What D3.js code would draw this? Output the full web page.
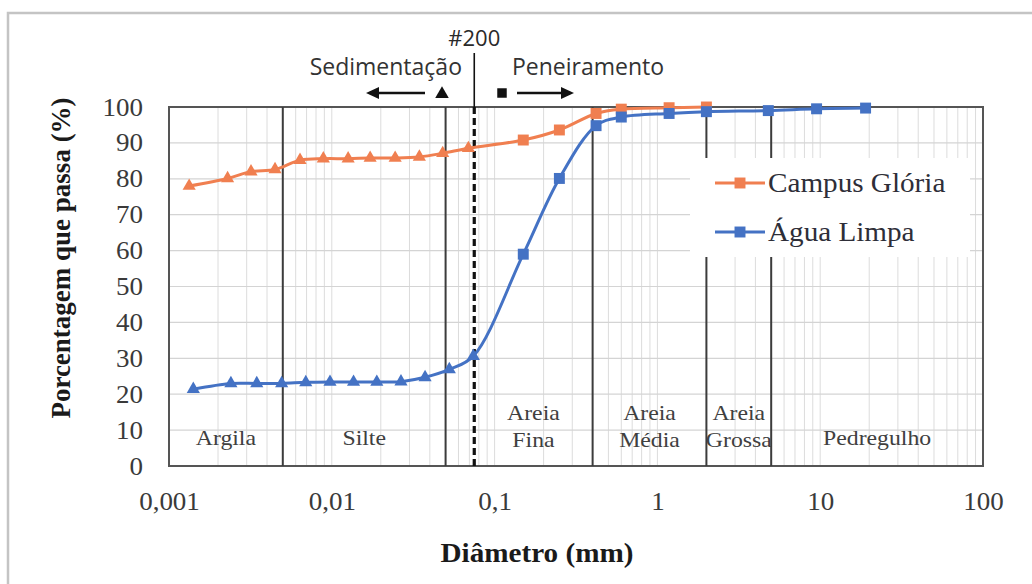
<!DOCTYPE html>
<html>
<head>
<meta charset="utf-8">
<script src="https://cdn.jsdelivr.net/npm/d3@7"></script>
<style>
  html, body { margin: 0; padding: 0; background: #fff; }
  svg { display: block; }
</style>
</head>
<body>
<svg id="chart" width="1032" height="584"></svg>
<script>
// Grain-size distribution (curva granulométrica) of two soil samples

// Campus Glória: sedimentation points (d < 0.075 mm) followed by sieve points
const campusDiam = [0.00133, 0.00229, 0.00319, 0.00448, 0.00638, 0.00887, 0.0126, 0.0172,
                    0.0245, 0.0345, 0.048, 0.069, 0.15, 0.25, 0.42, 0.6, 1.18, 2.0];
const campusPass = [78.0, 80.1, 82.0, 82.6, 85.2, 85.6, 85.6, 85.8,
                    85.8, 86.1, 87.1, 88.5, 90.8, 93.6, 98.2, 99.4, 99.8, 100];

// Água Limpa
const aguaDiam = [0.00141, 0.0024, 0.00346, 0.00492, 0.00692, 0.00975, 0.0136, 0.0189,
                  0.0266, 0.0374, 0.0527, 0.074, 0.15, 0.25, 0.42, 0.6, 1.18, 2.0, 4.8, 9.5, 19];
const aguaPass = [21.4, 23.0, 23.0, 23.0, 23.3, 23.4, 23.4, 23.4,
                  23.5, 24.7, 26.9, 30.6, 59.0, 80.1, 94.8, 97.2, 98.2, 98.7, 99.0, 99.5, 99.7];

const seriesNames = ["Campus Glória", "Água Limpa"];

// Axis ticks
const xTicks = [0.001, 0.01, 0.1, 1, 10, 100];
const xTickLabels = ["0,001", "0,01", "0,1", "1", "10", "100"];
const yTicks = [0, 10, 20, 30, 40, 50, 60, 70, 80, 90, 100];

// Soil fraction boundaries (mm) and the #200 sieve opening
const fractionBounds = [0.005, 0.05, 0.4, 2.0, 5.0];
const sieve200 = 0.075;

// Fraction names: [lower bound, upper bound, text lines]
const fractionNames = [
  [0.001, 0.005, ["Argila"]],
  [0.005, 0.05, ["Silte"]],
  [0.075, 0.4, ["Areia", "Fina"]],
  [0.4, 2.0, ["Areia", "Média"]],
  [2.0, 5.0, ["Areia", "Grossa"]],
  [5.0, 100, ["Pedregulho"]]
];

const colors = { campus: "#F07F50", agua: "#4472C4" };
const serif = "'Liberation Serif', 'Times New Roman', serif";
const sans = "'Open Sans', 'Noto Sans', sans-serif";
const SX = 1.08; // slight horizontal widening of the serif lettering

const svg = d3.select("#chart");

const plot = { left: 169, right: 983, top: 107, bottom: 466 };
const x = d3.scaleLog().domain([0.001, 100]).range([plot.left, plot.right]);
const y = d3.scaleLinear().domain([0, 100]).range([plot.bottom, plot.top]);

// Outer figure frame
svg.append("rect")
  .attr("x", 8).attr("y", 13).attr("width", 1040).attr("height", 620)
  .attr("fill", "none").attr("stroke", "#c4c4c4").attr("stroke-width", 2.5);

// Text helper with horizontal widening
function label(parent, px, py, str, opts) {
  const t = parent.append("text")
    .attr("transform", `translate(${px},${py}) scale(${opts.sx || 1},1)`)
    .attr("text-anchor", opts.anchor || "middle")
    .attr("font-family", opts.family || serif)
    .attr("font-size", opts.size)
    .attr("font-weight", opts.weight || "normal")
    .attr("fill", opts.fill || "#333")
    .text(str);
  return t;
}

// Grid: minor log lines in x, every 10 % in y
const grid = svg.append("g");
const minorX = [];
for (let e = -3; e < 2; e++) {
  for (let m = 1; m <= 9; m++) minorX.push(m * Math.pow(10, e));
}
minorX.push(100);
grid.selectAll("line.vx").data(minorX).join("line")
  .attr("x1", d => x(d)).attr("x2", d => x(d))
  .attr("y1", plot.top).attr("y2", plot.bottom)
  .attr("stroke", "#dcdcdc").attr("stroke-width", 1);
grid.selectAll("line.hy").data(yTicks).join("line")
  .attr("x1", plot.left).attr("x2", plot.right)
  .attr("y1", d => y(d)).attr("y2", d => y(d))
  .attr("stroke", "#d4d4d4").attr("stroke-width", 1.2);

// Plot border
svg.append("rect")
  .attr("x", plot.left).attr("y", plot.top)
  .attr("width", plot.right - plot.left).attr("height", plot.bottom - plot.top)
  .attr("fill", "none").attr("stroke", "#555").attr("stroke-width", 2);

// Fraction boundaries
svg.append("g").selectAll("line").data(fractionBounds).join("line")
  .attr("x1", d => x(d)).attr("x2", d => x(d))
  .attr("y1", plot.top).attr("y2", plot.bottom)
  .attr("stroke", "#3c3c3c").attr("stroke-width", 2);

// #200 sieve: dashed inside the plot, solid above it
svg.append("line")
  .attr("x1", x(sieve200)).attr("x2", x(sieve200))
  .attr("y1", plot.top).attr("y2", plot.bottom)
  .attr("stroke", "#111").attr("stroke-width", 3.2)
  .attr("stroke-dasharray", "7,4");
svg.append("line")
  .attr("x1", x(sieve200)).attr("x2", x(sieve200))
  .attr("y1", 53).attr("y2", plot.top)
  .attr("stroke", "#111").attr("stroke-width", 1.6);

// Fraction names
const fracG = svg.append("g");
fractionNames.forEach(([a, b, lines]) => {
  const cx = (x(a) + x(b)) / 2;
  const base = lines.length === 1 ? 445 : 420;
  lines.forEach((ln, i) => {
    label(fracG, cx, base + i * 27, ln, { size: 22, sx: SX, fill: "#404040" });
  });
});

// Axes
const xAxis = svg.append("g")
  .attr("transform", `translate(0,${plot.bottom})`)
  .call(d3.axisBottom(x).tickValues(xTicks).tickSize(0).tickPadding(26)
    .tickFormat((d, i) => xTickLabels[i]));
const yAxis = svg.append("g")
  .attr("transform", `translate(${plot.left},0)`)
  .call(d3.axisLeft(y).tickValues(yTicks).tickSize(0).tickPadding(24));
[xAxis, yAxis].forEach(ax => {
  ax.select(".domain").remove();
  ax.selectAll("text")
    .attr("font-family", serif).attr("font-size", 25).attr("fill", "#3a3a3a")
    .attr("transform", `scale(${SX},1)`);
});

// Axis titles
label(svg, 537, 562, "Diâmetro (mm)", { size: 27, weight: "bold", sx: SX, fill: "#1a1a1a" });
svg.append("text")
  .attr("transform", "translate(70,258) rotate(-90)")
  .attr("text-anchor", "middle")
  .attr("font-family", serif).attr("font-size", 27).attr("font-weight", "bold")
  .attr("fill", "#1a1a1a")
  .text("Porcentagem que passa (%)");

// Series
const line = d3.line()
  .x(d => x(d[0])).y(d => y(d[1]))
  .curve(d3.curveCatmullRom.alpha(0.5));
const triangle = d3.symbol().type(d3.symbolTriangle).size(75);
const square = d3.symbol().type(d3.symbolSquare).size(120);

function drawSeries(diam, pass, color) {
  const pts = diam.map((d, i) => [d, pass[i]]);
  const g = svg.append("g");
  g.append("path").datum(pts)
    .attr("d", line).attr("fill", "none")
    .attr("stroke", color).attr("stroke-width", 3);
  g.selectAll("path.mk").data(pts).join("path")
    .attr("class", "mk")
    .attr("transform", d => `translate(${x(d[0])},${y(d[1])})`)
    .attr("d", d => d[0] < sieve200 ? triangle() : square())
    .attr("fill", color);
}
drawSeries(campusDiam, campusPass, colors.campus);
drawSeries(aguaDiam, aguaPass, colors.agua);

// Legend
const legend = svg.append("g");
legend.append("rect")
  .attr("x", 690).attr("y", 158).attr("width", 280).attr("height", 99)
  .attr("fill", "#fff");
[[seriesNames[0], colors.campus, 183], [seriesNames[1], colors.agua, 232]].forEach(([name, c, ly]) => {
  legend.append("line")
    .attr("x1", 715).attr("x2", 765).attr("y1", ly).attr("y2", ly)
    .attr("stroke", c).attr("stroke-width", 3);
  legend.append("path")
    .attr("transform", `translate(740,${ly})`)
    .attr("d", square()).attr("fill", c);
  label(legend, 768, ly + 9, name, { size: 27, sx: SX, anchor: "start", fill: "#2e2e38" });
});

// Method annotation above the plot
const ann = svg.append("g");
ann.append("text")
  .attr("x", x(sieve200)).attr("y", 46)
  .attr("text-anchor", "middle")
  .attr("font-family", sans).attr("font-size", 22).attr("fill", "#2a2a2a")
  .text("#200");
ann.append("text")
  .attr("x", 462).attr("y", 75)
  .attr("text-anchor", "end")
  .attr("font-family", sans).attr("font-size", 23).attr("fill", "#333")
  .text("Sedimentação");
ann.append("text")
  .attr("x", 512).attr("y", 75)
  .attr("text-anchor", "start")
  .attr("font-family", sans).attr("font-size", 23).attr("fill", "#333")
  .text("Peneiramento");

function arrow(x1, x2, yy) {
  const dir = Math.sign(x2 - x1);
  ann.append("line")
    .attr("x1", x1).attr("x2", x2 - dir * 10).attr("y1", yy).attr("y2", yy)
    .attr("stroke", "#111").attr("stroke-width", 2.5);
  ann.append("path")
    .attr("d", `M${x2},${yy} L${x2 - dir * 13},${yy - 6} L${x2 - dir * 13},${yy + 6} Z`)
    .attr("fill", "#111");
}
arrow(425, 366, 93);
arrow(517, 574, 93);
ann.append("path")
  .attr("transform", "translate(442,94)")
  .attr("d", d3.symbol().type(d3.symbolTriangle).size(80)())
  .attr("fill", "#111");
ann.append("path")
  .attr("transform", "translate(502,93)")
  .attr("d", d3.symbol().type(d3.symbolSquare).size(90)())
  .attr("fill", "#111");
</script>
</body>
</html>
